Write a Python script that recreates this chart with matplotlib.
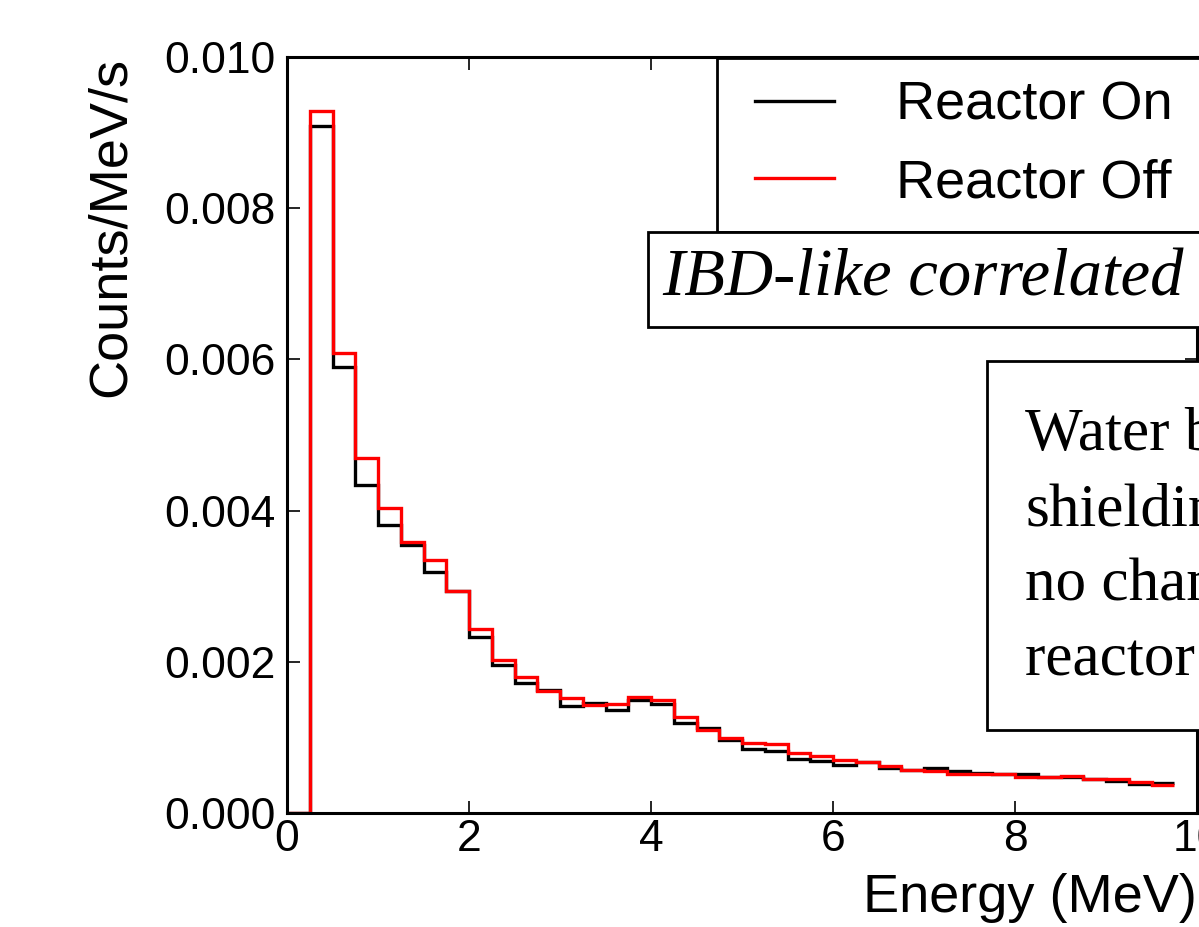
import numpy as np
import matplotlib
matplotlib.use("Agg")
from matplotlib import pyplot as plt
from matplotlib.patches import Rectangle

plt.rcParams['font.family'] = ['Liberation Sans', 'DejaVu Sans']

# bin edges (MeV), 0.25 MeV wide, first bin [0, 0.25] is empty
edges = np.arange(40) * 0.25

reactor_on = [0.0,
              0.00909, 0.00590, 0.00434, 0.00381, 0.00354, 0.00319, 0.00293, 0.00233,
              0.00196, 0.00172, 0.00163, 0.00141, 0.00146, 0.00136, 0.00150, 0.00144,
              0.00119, 0.00112, 0.00096, 0.00084, 0.00082, 0.00071, 0.00069, 0.00063,
              0.00067, 0.00060, 0.00057, 0.00060, 0.00056, 0.00053, 0.00051, 0.00051,
              0.00047, 0.00048, 0.00045, 0.00042, 0.00039, 0.00040]

reactor_off = [0.0,
               0.00928, 0.00608, 0.00470, 0.00404, 0.00359, 0.00335, 0.00293, 0.00244,
               0.00203, 0.00180, 0.00162, 0.00152, 0.00143, 0.00144, 0.00153, 0.00149,
               0.00127, 0.00110, 0.00099, 0.00093, 0.00091, 0.00080, 0.00075, 0.00070,
               0.00067, 0.00062, 0.00057, 0.00056, 0.00052, 0.00052, 0.00051, 0.00047,
               0.00047, 0.00049, 0.00045, 0.00045, 0.00041, 0.00037]

x_ticks = [0, 2, 4, 6, 8, 10]
y_ticks = [0.000, 0.002, 0.004, 0.006, 0.008, 0.010]

W, H = 1199, 927
ax_l, ax_b, ax_w, ax_h = 287, 114, 910, 756

def ax_xy(px, py):
    # pixel position in the picture -> axes fraction
    return (px - ax_l) / ax_w, (H - ax_b - py) / ax_h

def box(x0, y0, x1, y1):
    # plain black frame, given in picture pixels
    bx0, by0 = ax_xy(x0, y1)
    bx1, by1 = ax_xy(x1, y0)
    ax.add_patch(Rectangle((bx0, by0), bx1 - bx0, by1 - by0, transform=ax.transAxes,
                           fc='w', ec='k', lw=2.0, clip_on=False, zorder=4))

fig = plt.figure(figsize=(W / 100, H / 100), dpi=100)
ax = fig.add_axes([ax_l / W, ax_b / H, ax_w / W, ax_h / H])

ax.stairs(reactor_on, edges, baseline=None, color='k', lw=2.4, label='Reactor On')
ax.stairs(reactor_off, edges, baseline=None, color='r', lw=2.4, label='Reactor Off')

ax.set_xlim(0, 10)
ax.set_ylim(0, 0.010)
ax.set_xticks(x_ticks)
ax.set_xticklabels([str(t) for t in x_ticks])
ax.set_yticks(y_ticks)
ax.set_yticklabels(["%.3f" % t for t in y_ticks])

for sp in ax.spines.values():
    sp.set_linewidth(2.2)
ax.tick_params(direction='in', length=9, width=1.2, labelsize=32,
               top=True, right=True)
ax.tick_params(axis='x', pad=4)
ax.tick_params(axis='y', pad=8)

ax.set_xlabel("Energy (MeV)", fontsize=39, loc='right', labelpad=10)
ax.set_ylabel("Counts/MeV/s", fontsize=39, loc='top', labelpad=21)

# legend frame drawn separately so the inner spacing matches
box(717, 58, 1260, 232)
leg = ax.legend(loc='upper left', bbox_to_anchor=ax_xy(755, 81),
                borderaxespad=0, borderpad=0, fontsize=39, frameon=False,
                handlelength=1.45, handletextpad=1.15, labelspacing=0.5)
leg.set_zorder(5)

box(648, 232, 1260, 327)
ax.text(*ax_xy(662, 279.5), "IBD-like correlated",
        transform=ax.transAxes, family=['Liberation Serif'], style='italic',
        fontsize=48, ha='left', va='center', zorder=6)

box(987, 361, 1260, 730)
ax.text(*ax_xy(1025, 548), "Water bricks\nshielding,\nno change with\nreactor on/off",
        transform=ax.transAxes, family=['Liberation Serif'],
        fontsize=44, ha='left', va='center', linespacing=1.45, zorder=6)

fig.savefig("out.png", dpi=100)
